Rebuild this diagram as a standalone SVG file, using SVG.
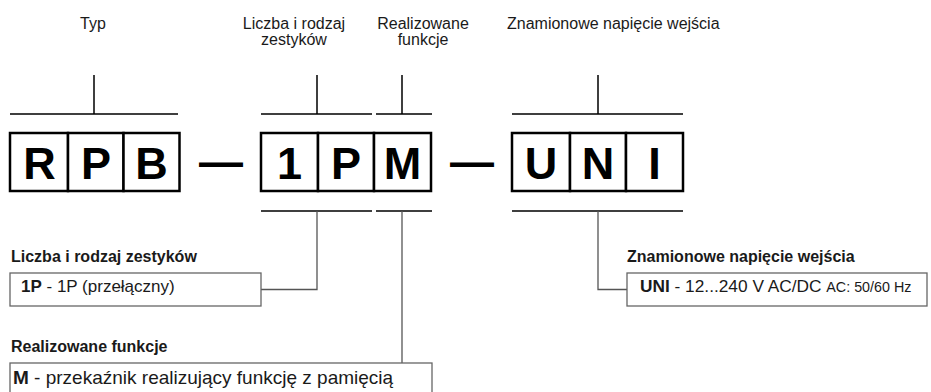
<svg xmlns="http://www.w3.org/2000/svg" width="931" height="392" viewBox="0 0 931 392">
<style>
.lbl{font-family:"Liberation Sans",Arial,sans-serif;font-size:16px;fill:#1a1a1a}
.hd{font-family:"Liberation Sans",Arial,sans-serif;font-size:16px;font-weight:bold;fill:#1a1a1a}
.bt{font-family:"Liberation Sans",Arial,sans-serif;font-size:17px;fill:#1a1a1a}
.big{font-family:"Liberation Sans",Arial,sans-serif;font-size:45px;font-weight:bold;fill:#000;text-anchor:middle}
.cell{fill:#fff;stroke:#000;stroke-width:2.5}
.br{stroke:#000;stroke-width:1.5;fill:none}
.cn{stroke:#555;stroke-width:1.3;fill:none}
.db{fill:#fff;stroke:#666;stroke-width:1.3}
</style>
<rect width="931" height="392" fill="#fff"/>
<g id="top-labels">
<text class="lbl" x="93" y="29" text-anchor="middle">Typ</text>
<text class="lbl" x="294" y="29" text-anchor="middle">Liczba i rodzaj</text>
<text class="lbl" x="294" y="45" text-anchor="middle">zestyków</text>
<text class="lbl" x="423" y="29" text-anchor="middle">Realizowane</text>
<text class="lbl" x="423" y="45" text-anchor="middle">funkcje</text>
<text class="lbl" x="507" y="29">Znamionowe napięcie wejścia</text>
</g>
<g id="connectors">
<path class="br" d="M10 114H178M94 75V114"/>
<path class="br" d="M261 114H372M317 75V114"/>
<path class="br" d="M376 114H432M402 75V114"/>
<path class="br" d="M512 114H683M598 75V114"/>
<path class="br" d="M261 211H372M376 211H432M512 211H683"/>
<path class="cn" d="M317 211V289.5H261"/>
<path class="cn" d="M402 211V363"/>
<path class="cn" d="M598 211V289.5H627"/>
</g>
<g id="code-RPB">
<rect class="cell" x="10" y="133" width="58" height="58"/>
<rect class="cell" x="68" y="133" width="55.5" height="58"/>
<rect class="cell" x="123.5" y="133" width="56" height="58"/>
<text class="big" x="39.5" y="179">R</text>
<text class="big" x="96" y="179">P</text>
<text class="big" x="151.5" y="179">B</text>
</g>
<g id="dash1"><text class="big" x="221" y="177" style="font-size:44px">—</text></g>
<g id="code-1PM">
<rect class="cell" x="261" y="133" width="57" height="58"/>
<rect class="cell" x="318" y="133" width="56" height="58"/>
<rect class="cell" x="374" y="133" width="57" height="58"/>
<text class="big" x="289.5" y="179">1</text>
<text class="big" x="346" y="179">P</text>
<text class="big" x="402.5" y="179">M</text>
</g>
<g id="dash2"><text class="big" x="472" y="177" style="font-size:44px">—</text></g>
<g id="code-UNI">
<rect class="cell" x="512" y="133" width="58" height="58"/>
<rect class="cell" x="570" y="133" width="56" height="58"/>
<rect class="cell" x="626" y="133" width="57" height="58"/>
<text class="big" x="541" y="179">U</text>
<text class="big" x="598" y="179">N</text>
<text class="big" x="654.5" y="179">I</text>
</g>
<g id="desc-contacts">
<text class="hd" x="11" y="262">Liczba i rodzaj zestyków</text>
<rect class="db" x="10" y="273" width="251" height="33"/>
<text class="bt" x="21" y="292"><tspan font-weight="bold">1P</tspan> - 1P (przełączny)</text>
</g>
<g id="desc-functions">
<text class="hd" x="11" y="352">Realizowane funkcje</text>
<rect class="db" x="10" y="363" width="422" height="40"/>
<text class="bt" x="13" y="384" style="font-size:19px"><tspan font-weight="bold">M</tspan> - przekaźnik realizujący funkcję z pamięcią</text>
</g>
<g id="desc-voltage">
<text class="hd" x="627" y="262">Znamionowe napięcie wejścia</text>
<rect class="db" x="627" y="273" width="300" height="33"/>
<text class="bt" x="640" y="292" style="font-size:17.3px"><tspan font-weight="bold">UNI</tspan> - 12...240 V AC/DC <tspan style="font-size:14.3px">AC: 50/60 Hz</tspan></text>
</g>
</svg>
